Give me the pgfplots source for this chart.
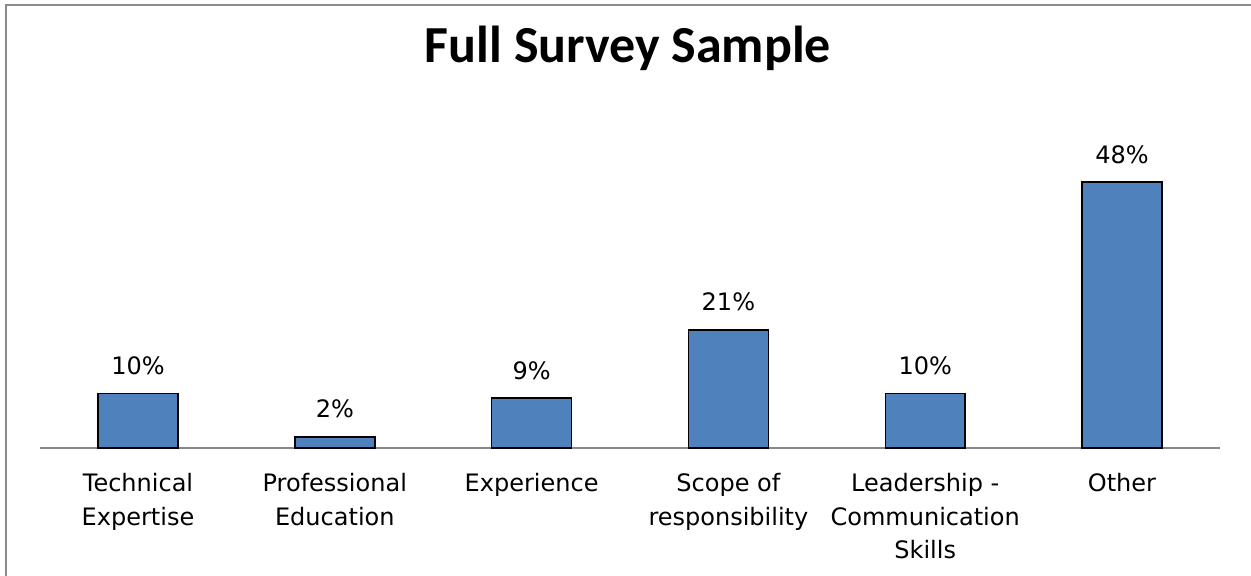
\documentclass[border=0pt]{standalone}
\usepackage{pgfplots}
\pgfplotsset{compat=1.18}
\usepackage{fontspec}
\setmainfont{DejaVu Sans}
\newfontfamily\titlefont{Carlito}
\definecolor{barblue}{HTML}{4F81BD}
\definecolor{framegray}{HTML}{8C8C8C}
\definecolor{axisgray}{HTML}{888888}
\begin{document}
\begin{tikzpicture}
\useasboundingbox (-69pt,-64pt) rectangle (556.5pt,224pt);
\draw[framegray, line width=1pt] (-65.75pt,-80pt) -- (-65.75pt,221.25pt) -- (600pt,221.25pt);
\node[anchor=base, font=\titlefont\bfseries\fontsize{26}{30}\selectfont] at (245pt,192.5pt) {Full Survey Sample};
\begin{axis}[
  at={(0,0)}, anchor=origin,
  scale only axis,
  x=98.4pt, y=2.77pt,
  xmin=-0.5, xmax=5.5, ymin=0, ymax=50,
  axis x line=bottom, axis y line=none,
  x axis line style={axisgray, line width=0.8pt, -},
  major tick length=0pt,
  xtick={0,1,2,3,4,5},
  xticklabels={{Technical\\Expertise},{Professional\\Education},{Experience},{Scope of\\responsibility},{Leadership -\\Communication\\Skills},{Other}},
  xticklabel style={align=center, anchor=north, inner sep=0pt, yshift=-12.5pt, font=\fontsize{12}{16.8}\selectfont},
  ytick=\empty,
  clip=false,
  /pgf/number format/assume math mode=true,
  nodes near coords={\pgfmathprintnumber[fixed,precision=0]{\pgfplotspointmeta}\%},
  every node near coord/.append style={anchor=base, inner sep=0pt, yshift=9.5pt, font=\fontsize{12}{14}\selectfont, text=black},
]
\addplot[ybar, bar width=0.406, fill=barblue, draw=black, line width=0.75pt] coordinates {
  (0,9.8) (1,2.0) (2,9.0) (3,21.3) (4,9.8) (5,48.0)
};
\end{axis}
\end{tikzpicture}
\end{document}
